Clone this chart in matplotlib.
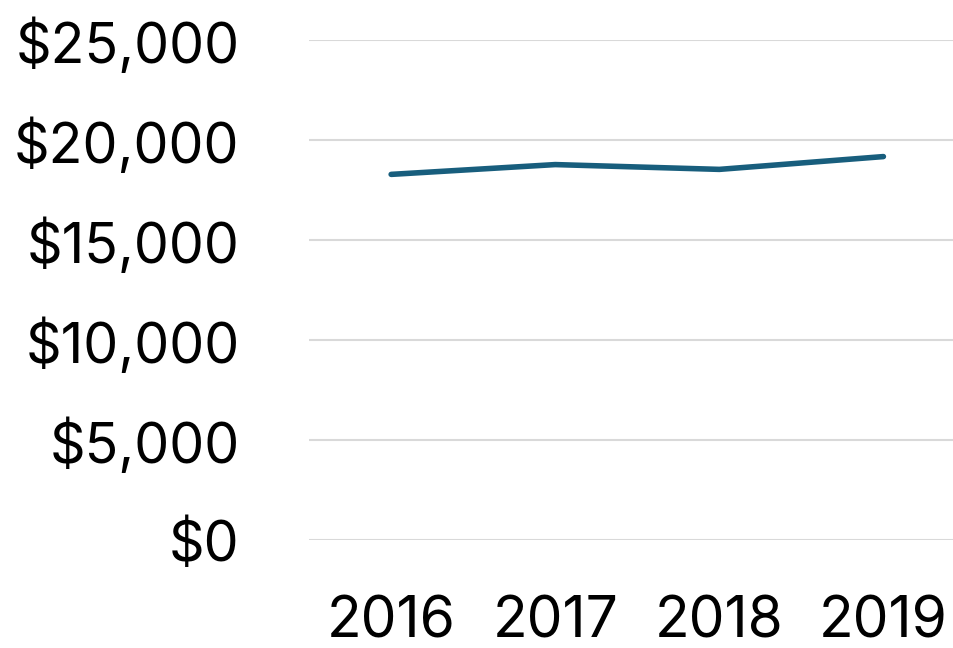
import matplotlib
matplotlib.use("Agg")
import matplotlib.pyplot as plt
from matplotlib.ticker import FuncFormatter

years = ["2016", "2017", "2018", "2019"]
values = [18280, 18770, 18530, 19170]
yticks = [0, 5000, 10000, 15000, 20000, 25000]

plt.rcParams['font.family'] = ['Inter', 'DejaVu Sans']

fig = plt.figure(figsize=(9.54, 6.48), dpi=100)
ax = fig.add_axes([0.324, 0.1667, 0.688, 0.7716])

x = list(range(len(years)))
ax.plot(x, values, color="#185E7D", linewidth=4.0, solid_capstyle="round", solid_joinstyle="round", zorder=3)

ax.set_xlim(-0.5, len(years) - 0.5)
ax.set_ylim(0, 25000)
ax.set_yticks(yticks)
ax.yaxis.set_major_formatter(FuncFormatter(lambda v, p: f"${int(v):,}"))
ax.set_xticks(x)
ax.set_xticklabels(years)

ax.grid(axis="y", color="#D9D9D9", linewidth=1.5, zorder=0)
ax.grid(axis="x", visible=False)
for s in ax.spines.values():
    s.set_visible(False)
ax.tick_params(axis="both", length=0, colors="black")
ax.tick_params(axis="y", pad=50, labelsize=40)
ax.tick_params(axis="x", pad=40, labelsize=41)

fig.savefig("out.png", dpi=100)
